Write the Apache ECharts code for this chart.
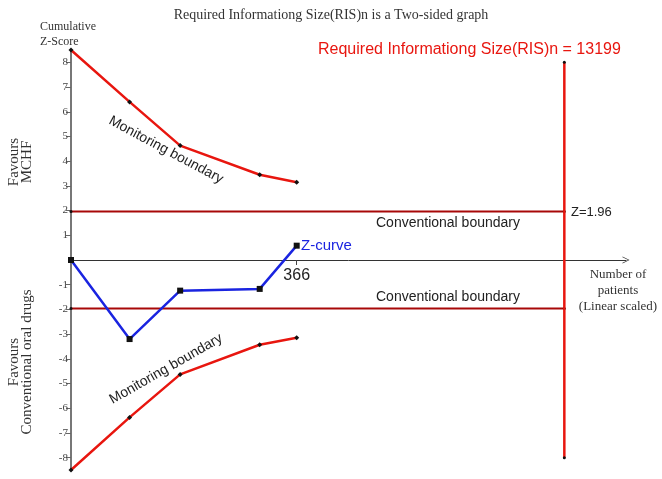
<!DOCTYPE html>
<html>
<head>
<meta charset="utf-8">
<script src="https://cdn.jsdelivr.net/npm/echarts@6/dist/echarts.min.js"></script>
<style>
  html, body { margin: 0; padding: 0; background: #fff; }
  #main { width: 662px; height: 479px; }
</style>
</head>
<body>
<div id="main"></div>
<script>
// cumulative number of patients at each look (drawn positions)
var patients = [0, 95, 177, 306, 366];
var upperBoundary = [8.5, 6.4, 4.63, 3.45, 3.15];
var lowerBoundary = [-8.5, -6.37, -4.63, -3.43, -3.15];
var zCurve = [0, -3.2, -1.24, -1.17, 0.58];
var conventionalZ = 1.96;
// RIS line drawn at this x position (graph is not to scale), labelled 13199
var risPos = 800;
var risLabel = 13199;
var risTop = 8, risBottom = -8;
var yTicks = [-8, -7, -6, -5, -4, -3, -2, -1, 1, 2, 3, 4, 5, 6, 7, 8];
var xTicks = [366];

function pairs(xs, ys) {
  return xs.map(function (x, i) { return [x, ys[i]]; });
}

var serif = 'Liberation Serif';
var sans = 'Liberation Sans';

var chart = echarts.init(document.getElementById('main'));
chart.setOption({
  animation: false,
  title: {
    text: 'Required Informationg Size(RIS)n is a Two-sided graph',
    left: 'center',
    top: 3,
    textStyle: { fontFamily: serif, fontSize: 14, fontWeight: 'normal', color: '#333' }
  },
  grid: { left: 71, right: 36, top: 50, bottom: 9, containLabel: false, outerBoundsMode: 'none' },
  xAxis: {
    type: 'value',
    min: 0,
    max: 900,
    position: 'bottom',
    offset: -210, // put the axis on z = 0 (middle of the grid)
    splitLine: { show: false },
    axisLine: {
      onZero: false,
      lineStyle: { color: '#333', width: 1 },
      symbol: ['none', 'path://M0,10 L5,0 L10,10 L9,10 L5,2 L1,10 Z'],
      symbolSize: [11, 7]
    },
    axisTick: { customValues: xTicks, length: 5, lineStyle: { color: '#444' } },
    axisLabel: {
      customValues: xTicks,
      fontFamily: sans, fontSize: 16, color: '#222', margin: 8
    }
  },
  yAxis: {
    type: 'value',
    min: -8.5,
    max: 8.5,
    splitLine: { show: false },
    axisLine: { lineStyle: { color: '#777', width: 2 } },
    axisTick: { customValues: yTicks, length: 5, lineStyle: { color: '#666' } },
    axisLabel: {
      customValues: yTicks,
      fontFamily: serif, fontSize: 11, color: '#444', margin: 3
    }
  },
  series: [
    {
      name: 'Upper monitoring boundary',
      type: 'line',
      data: pairs(patients, upperBoundary),
      lineStyle: { color: '#e8160f', width: 2.5 },
      symbol: 'diamond', symbolSize: 5,
      itemStyle: { color: '#111' },
      z: 3
    },
    {
      name: 'Lower monitoring boundary',
      type: 'line',
      data: pairs(patients, lowerBoundary),
      lineStyle: { color: '#e8160f', width: 2.5 },
      symbol: 'diamond', symbolSize: 5,
      itemStyle: { color: '#111' },
      z: 3
    },
    {
      name: 'Upper conventional',
      type: 'line',
      data: [[0, conventionalZ], [risPos, conventionalZ]],
      lineStyle: { color: '#a80808', width: 2 },
      symbol: 'circle', symbolSize: 3,
      itemStyle: { color: '#111' },
      z: 2
    },
    {
      name: 'Lower conventional',
      type: 'line',
      data: [[0, -conventionalZ], [risPos, -conventionalZ]],
      lineStyle: { color: '#a80808', width: 2 },
      symbol: 'circle', symbolSize: 3,
      itemStyle: { color: '#111' },
      z: 2
    },
    {
      name: 'RIS',
      type: 'line',
      data: [[risPos, risTop], [risPos, risBottom]],
      lineStyle: { color: '#e8160f', width: 2.5 },
      symbol: 'circle', symbolSize: 3,
      itemStyle: { color: '#111' },
      z: 4
    },
    {
      name: 'Z-curve',
      type: 'line',
      data: pairs(patients, zCurve),
      lineStyle: { color: '#1a24e0', width: 2.5 },
      symbol: 'rect', symbolSize: 6,
      itemStyle: { color: '#111' },
      z: 5
    }
  ],
  graphic: [
    { type: 'text', left: 40, top: 19,
      style: { text: 'Cumulative\nZ-Score', align: 'center', font: '12px ' + serif, fill: '#333', lineHeight: 15 } },
    { type: 'text', left: 318, top: 42,
      style: { text: 'Required Informationg Size(RIS)n = ' + risLabel, font: '16px ' + sans, fill: '#e8160f' } },
    { type: 'text', x: 21, y: 162, rotation: Math.PI / 2,
      style: { text: 'Favours\nMCHF', align: 'center', verticalAlign: 'middle', font: '15px ' + serif, fill: '#333', lineHeight: 13 } },
    { type: 'text', x: 21, y: 362, rotation: Math.PI / 2,
      style: { text: 'Favours\nConventional oral drugs', align: 'center', verticalAlign: 'middle', font: '15px ' + serif, fill: '#333', lineHeight: 13 } },
    { type: 'text', x: 166, y: 150, rotation: -0.49,
      style: { text: 'Monitoring boundary', align: 'center', verticalAlign: 'middle', font: '14px ' + sans, fill: '#222' } },
    { type: 'text', x: 166, y: 369, rotation: 0.52,
      style: { text: 'Monitoring boundary', align: 'center', verticalAlign: 'middle', font: '14px ' + sans, fill: '#222' } },
    { type: 'text', x: 448, y: 223,
      style: { text: 'Conventional boundary', align: 'center', verticalAlign: 'middle', font: '14px ' + sans, fill: '#222' } },
    { type: 'text', x: 448, y: 297,
      style: { text: 'Conventional boundary', align: 'center', verticalAlign: 'middle', font: '14px ' + sans, fill: '#222' } },
    { type: 'text', x: 571, y: 212,
      style: { text: 'Z=1.96', verticalAlign: 'middle', font: '13px ' + sans, fill: '#222' } },
    { type: 'text', x: 301, y: 246,
      style: { text: 'Z-curve', verticalAlign: 'middle', font: '15px ' + sans, fill: '#1a24e0' } },
    { type: 'text', x: 618, y: 291,
      style: { text: 'Number of\npatients\n(Linear scaled)', align: 'center', verticalAlign: 'middle', font: '13px ' + serif, fill: '#333', lineHeight: 16 } }
  ]
});
</script>
</body>
</html>
